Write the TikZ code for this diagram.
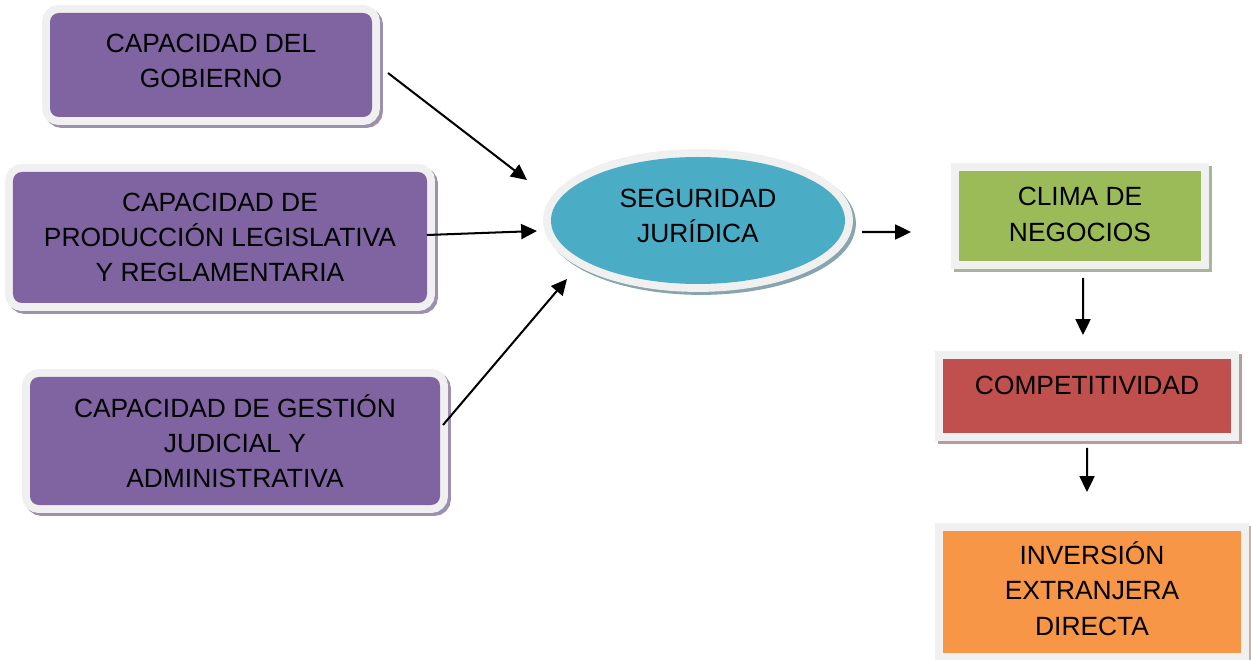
\documentclass[tikz,border=0pt]{standalone}
\usepackage{fontspec}
\setmainfont{Liberation Sans}
\usetikzlibrary{arrows.meta,shapes.geometric}
\definecolor{edge}{RGB}{240,240,240}
\definecolor{morado}{RGB}{128,100,162}
\definecolor{celeste}{RGB}{75,172,198}
\definecolor{verde}{RGB}{155,187,89}
\definecolor{rojo}{RGB}{192,80,77}
\definecolor{naranja}{RGB}{247,150,70}
\definecolor{shmorado}{RGB}{155,145,175}
\definecolor{shceleste}{RGB}{135,165,175}
\definecolor{shverde}{RGB}{170,180,150}
\definecolor{shrojo}{RGB}{185,155,155}
\definecolor{shnaranja}{RGB}{205,175,150}

\begin{document}
\begin{tikzpicture}[>={Triangle[length=9pt,width=8.5pt]},line width=1.15pt,
    font=\fontsize{15pt}{20pt}\selectfont,
    base/.style={outer sep=0pt,inner sep=0pt,align=center,
        preaction={draw=#1,line width=9pt,transform canvas={xshift=1.7pt,yshift=-1.7pt}},
        preaction={draw=edge,line width=9pt}},
    caja/.style={base=shmorado,fill=morado,rounded corners=5pt},
    recuadro/.style={base=#1,rectangle}]
    \useasboundingbox (0,0) rectangle (25.02,-13.2);
    % factores
    \node[caja,minimum width=6.44cm,minimum height=2.08cm,text depth=4.6pt] (gob) at (4.22,-1.30)
        {CAPACIDAD DEL\\GOBIERNO};
    \node[caja,minimum width=8.28cm,minimum height=2.62cm] (leg) at (4.40,-4.75)
        {CAPACIDAD DE\\PRODUCCIÓN LEGISLATIVA\\Y REGLAMENTARIA};
    \node[caja,minimum width=8.20cm,minimum height=2.56cm] (jud) at (4.70,-8.82)
        {CAPACIDAD DE GESTIÓN\\JUDICIAL Y\\ADMINISTRATIVA};
    % centro
    \node[base=shceleste,ellipse,fill=celeste,minimum width=5.88cm,minimum height=2.54cm,text depth=5.5pt] (seg) at (13.96,-4.41)
        {SEGURIDAD\\JURÍDICA};
    % cadena de resultados
    \node[recuadro=shverde,fill=verde,minimum width=4.84cm,minimum height=1.80cm,text depth=2pt] (clima) at (21.60,-4.32)
        {CLIMA DE\\NEGOCIOS};
    \node[recuadro=shrojo,fill=rojo,minimum width=5.76cm,minimum height=1.48cm,text depth=12.5pt] (comp) at (21.74,-7.92)
        {COMPETITIVIDAD};
    \node[recuadro=shnaranja,fill=naranja,minimum width=5.96cm,minimum height=2.44cm,text depth=4pt] (inv) at (21.84,-11.84)
        {INVERSIÓN\\EXTRANJERA\\DIRECTA};
    % flechas
    \draw[->] ([xshift=0.32cm,yshift=-0.16cm]gob.east) -- ([xshift=-0.48cm,yshift=0.81cm]seg.west);
    \draw[->] ([yshift=0.05cm]leg.east) -- ([xshift=-0.28cm,yshift=-0.21cm]seg.west);
    \draw[->] ([xshift=0.06cm,yshift=0.32cm]jud.east) -- ([xshift=0.32cm,yshift=-1.17cm]seg.west);
    \draw[->] ([xshift=0.34cm,yshift=-0.23cm]seg.east) -- ([xshift=-0.96cm,yshift=-0.32cm]clima.west);
    \draw[->] ([xshift=0.06cm,yshift=-0.34cm]clima.south) -- ([xshift=-0.08cm,yshift=0.48cm]comp.north);
    \draw[->] ([yshift=-0.30cm]comp.south) -- ([xshift=-0.10cm,yshift=0.78cm]inv.north);
\end{tikzpicture}
\end{document}
